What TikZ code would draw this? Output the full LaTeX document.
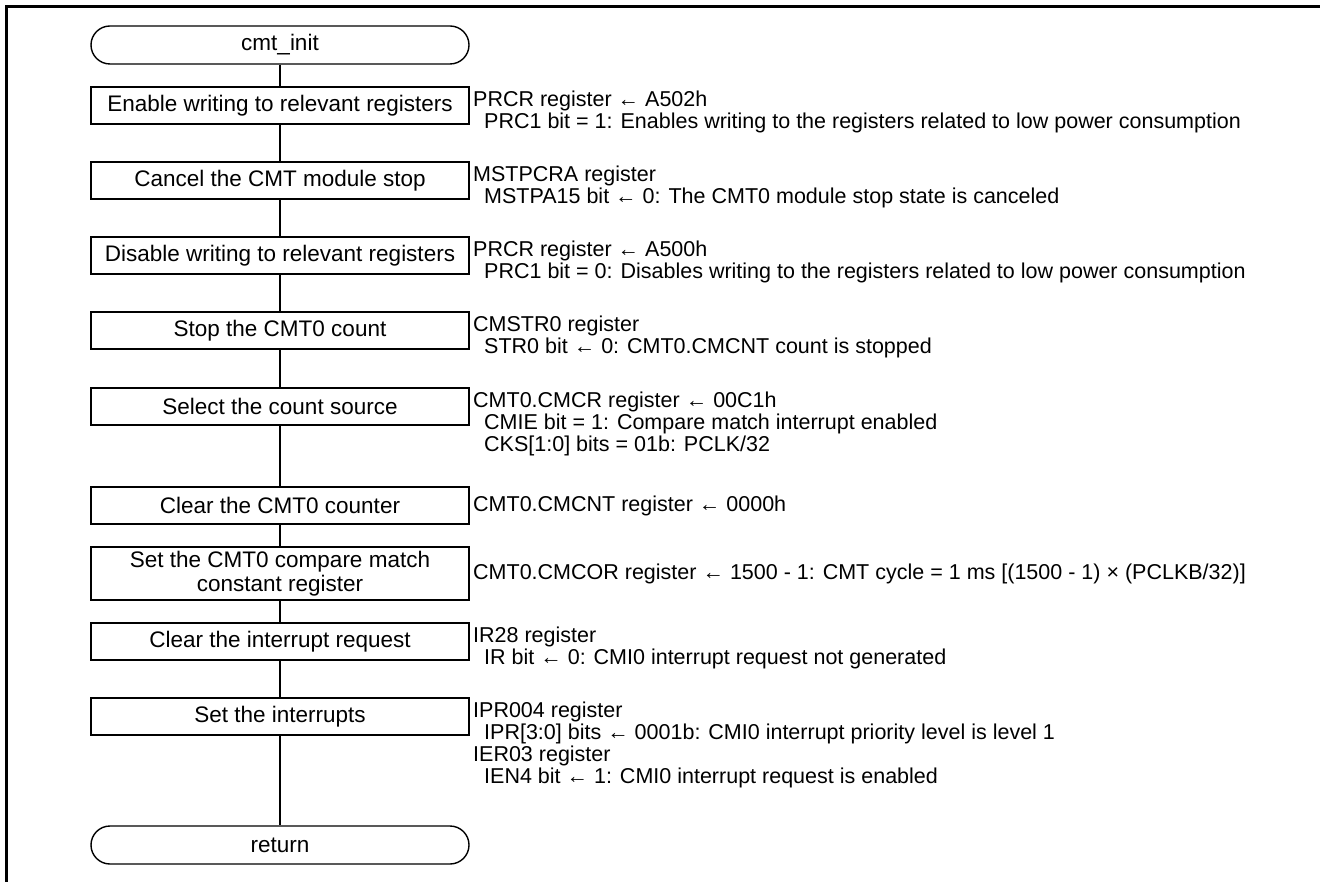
\documentclass[tikz,border=0pt]{standalone}
\usepackage{fontspec}
\setmainfont{Liberation Sans}
\begin{document}
\begin{tikzpicture}[x=1pt,y=-1pt,
  proc node/.style={draw,line width=1.4pt,minimum width=378pt,minimum height=37pt,inner sep=0pt,align=center,font=\fontsize{22.5}{24}\selectfont},
  term node/.style={proc node,rounded corners=19pt,minimum height=38pt},
  note node/.style={anchor=north west,inner sep=0pt,align=left,font=\fontsize{21.5}{22}\selectfont}]
\useasboundingbox (0,0) rectangle (1320,882);
\draw[line width=3pt] (6,882) -- (6,7) -- (1320,7);

\node[term node] at (280,45) (init) {cmt\_init};
\node[proc node] at (280,105.5) (wren) {Enable writing to relevant registers};
\node[proc node] at (280,180.5) (mstp) {Cancel the CMT module stop};
\node[proc node] at (280,255.5) (wrdis) {Disable writing to relevant registers};
\node[proc node] at (280,330.5) (stop) {Stop the CMT0 count};
\node[proc node] at (280,406.5) (src) {Select the count source};
\node[proc node] at (280,505.5) (clr) {Clear the CMT0 counter};
\node[proc node,minimum height=53pt] at (280,573.5) (cor) {Set the CMT0 compare match\\constant register};
\node[proc node] at (280,641.5) (irclr) {Clear the interrupt request};
\node[proc node] at (280,716.5) (intset) {Set the interrupts};
\node[term node] at (280,845) (ret) {return};

\node[note node] at (473,91) (wrennote) {PRCR register ← A502h\\
  \hspace*{11pt}PRC1 bit = 1: Enables writing to the registers related to low power consumption};
\node[note node] at (473,166) (mstpnote) {MSTPCRA register\\
  \hspace*{11pt}MSTPA15 bit ← 0: The CMT0 module stop state is canceled};
\node[note node] at (473,241) (wrdisnote) {PRCR register ← A500h\\
  \hspace*{11pt}PRC1 bit = 0: Disables writing to the registers related to low power consumption};
\node[note node] at (473,316) (stopnote) {CMSTR0 register\\
  \hspace*{11pt}STR0 bit ← 0: CMT0.CMCNT count is stopped};
\node[note node] at (473,392) (srcnote) {CMT0.CMCR register ← 00C1h\\
  \hspace*{11pt}CMIE bit = 1: Compare match interrupt enabled\\
  \hspace*{11pt}CKS[1:0] bits = 01b: PCLK/32};
\node[note node,anchor=west] at (473,505.5) (clrnote) {CMT0.CMCNT register ← 0000h};
\node[note node,anchor=west] at (473,573.5) (cornote) {CMT0.CMCOR register ← 1500 - 1: CMT cycle = 1 ms [(1500 - 1) × (PCLKB/32)]};
\node[note node] at (473,627) (irclrnote) {IR28 register\\
  \hspace*{11pt}IR bit ← 0: CMI0 interrupt request not generated};
\node[note node] at (473,702) (intsetnote) {IPR004 register\\
  \hspace*{11pt}IPR[3:0] bits ← 0001b: CMI0 interrupt priority level is level 1\\
  IER03 register\\
  \hspace*{11pt}IEN4 bit ← 1: CMI0 interrupt request is enabled};

\path[line width=1.4pt] (init) edge (wren);
\path[line width=1.4pt] (wren) edge (mstp);
\path[line width=1.4pt] (mstp) edge (wrdis);
\path[line width=1.4pt] (wrdis) edge (stop);
\path[line width=1.4pt] (stop) edge (src);
\path[line width=1.4pt] (src) edge (clr);
\path[line width=1.4pt] (clr) edge (cor);
\path[line width=1.4pt] (cor) edge (irclr);
\path[line width=1.4pt] (irclr) edge (intset);
\path[line width=1.4pt] (intset) edge (ret);
\end{tikzpicture}
\end{document}
